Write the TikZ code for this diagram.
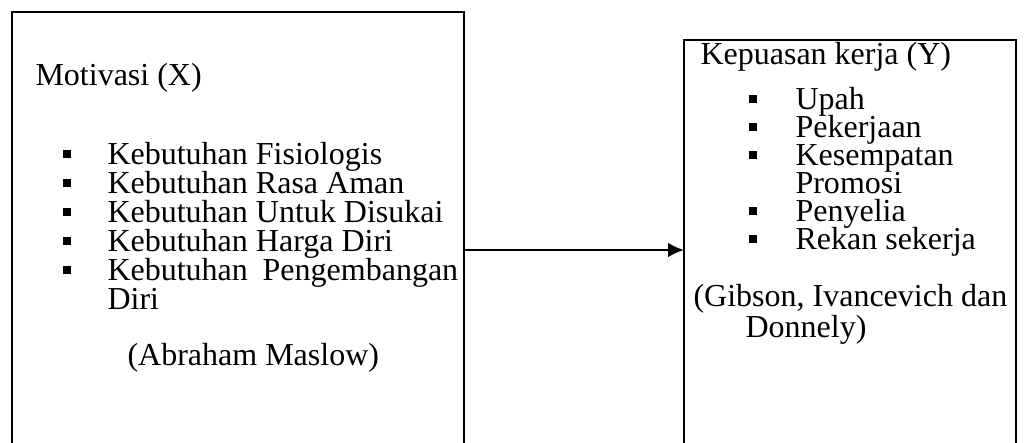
\documentclass[tikz,border=0pt]{standalone}
\usepackage{fontspec}
\setmainfont{Liberation Serif}
\usetikzlibrary{arrows.meta}

\begin{document}
\begin{tikzpicture}[x=0.375pt,y=-0.375pt,
		box/.style={draw,line width=0.75pt,inner sep=0pt,outer sep=0pt},
		txt/.style={anchor=base west,inner sep=0pt,font=\fontsize{12pt}{14pt}\selectfont},
		bul/.style={fill,inner sep=0pt,minimum size=3pt}]
		\useasboundingbox (0,0) rectangle (1032,442);
		\clip (0,0) rectangle (1032,442);
		
		\node[box,minimum width=169.5pt,minimum height=178.5pt] (kiri) at (238,250) {};
		\node[box,minimum width=124.5pt,minimum height=157.5pt] (kanan) at (850,250) {};
		
		\node[txt] (mot) at (35,86) {Motivasi (X)};
		
		\node[bul] (b1) at (67,154) {};
		\node[bul] (b2) at (67,183) {};
		\node[bul] (b3) at (67,212) {};
		\node[bul] (b4) at (67,241) {};
		\node[bul] (b5) at (67,270) {};
		
		\node[txt] (k1) at (107,164) {Kebutuhan Fisiologis};
		\node[txt] (k2) at (107,193) {Kebutuhan Rasa Aman};
		\node[txt] (k3) at (107,222) {Kebutuhan Untuk Disukai};
		\node[txt] (k4) at (107,251) {Kebutuhan Harga Diri};
		\node[txt] (k5) at (107,280) {\makebox[131.5pt][s]{Kebutuhan Pengembangan}};
		\node[txt] (k6) at (107,309) {Diri};
		
		\node[txt] (maslow) at (127,365) {(Abraham Maslow)};
		
		\node[txt] (kep) at (700,65) {Kepuasan kerja (Y)};
		
		\node[bul] (c1) at (753,99) {};
		\node[bul] (c2) at (753,127) {};
		\node[bul] (c3) at (753,155) {};
		\node[bul] (c4) at (753,211) {};
		\node[bul] (c5) at (753,239) {};
		
		\node[txt] (y1) at (795,109) {Upah};
		\node[txt] (y2) at (795,137) {Pekerjaan};
		\node[txt] (y3) at (795,165) {Kesempatan};
		\node[txt] (y4) at (795,193) {Promosi};
		\node[txt] (y5) at (795,221) {Penyelia};
		\node[txt] (y6) at (795,249) {Rekan sekerja};
		
		\node[txt] (gib) at (693,306) {(Gibson, Ivancevich dan};
		\node[txt] (don) at (745,337) {Donnely)};
		
		\draw[line width=0.75pt,-{Latex[length=6pt,width=5.5pt]}] (kiri.east) -- (kanan.west);
	\end{tikzpicture}
\end{document}
